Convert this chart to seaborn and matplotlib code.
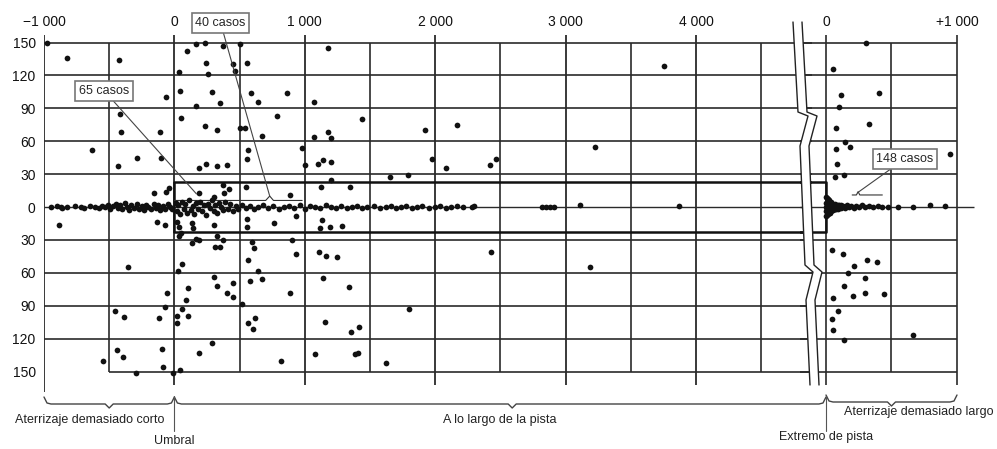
import matplotlib
matplotlib.use("Agg")
import matplotlib.pyplot as plt
import numpy as np
import pandas as pd
import seaborn as sns
from matplotlib.lines import Line2D
from matplotlib.patches import Polygon

# ---------------- data (metres along runway, metres off centreline) ----------------
main_upper = [(-977, 150), (-823, 136), (-423, 134), (-631, 52), (-415, 85), (-408, 68), (-431, 37),
              (-285, 45), (-108, 68), (-100, 45), (-62, 100), (-154, 13), (-62, 14), (-38, 17),
              (38, 123), (46, 106), (54, 81), (100, 142), (169, 149), (231, 150), (369, 147),
              (169, 92), (246, 131), (285, 105), (346, 95), (254, 121), (231, 74), (323, 70),
              (446, 130), (462, 124), (500, 149), (554, 131), (585, 104), (638, 96), (500, 72),
              (538, 72), (562, 52), (554, 44), (669, 65), (785, 83), (862, 104), (977, 54),
              (1000, 38), (1069, 96), (1069, 64), (1177, 68), (1200, 63), (1100, 39), (1138, 43),
              (1200, 41), (1177, 145), (185, 36), (246, 39), (323, 37), (400, 38), (369, 20),
              (415, 16), (300, 9), (380, 13), (192, 13), (885, 11), (546, 18), (1438, 80),
              (1923, 70), (2169, 75), (1977, 44), (2085, 36), (2423, 38), (2469, 44), (1654, 27),
              (1792, 29), (1123, 18), (1346, 18), (1200, 25), (3223, 55), (3754, 129)]
main_lower = [(-885, -16), (-354, -55), (-454, -95), (-385, -100), (-438, -130), (-392, -137),
              (-546, -140), (-292, -151), (-131, -14), (-69, -16), (-54, -78), (-69, -91),
              (-115, -101), (-92, -129), (-85, -146), (-8, -151), (46, -149), (31, -58), (62, -52),
              (23, -14), (38, -18), (54, -24), (38, -26), (138, -15), (146, -19), (138, -33),
              (162, -29), (185, -30), (300, -16), (323, -26), (315, -36), (346, -36), (369, -30),
              (108, -74), (92, -85), (62, -93), (23, -99), (108, -99), (23, -106), (300, -64),
              (323, -72), (400, -78), (446, -82), (446, -69), (515, -88), (192, -133), (285, -124),
              (554, -11), (554, -18), (592, -32), (608, -37), (562, -48), (577, -67), (638, -58),
              (669, -66), (562, -106), (600, -111), (615, -101), (762, -15), (931, -8), (900, -30),
              (931, -43), (885, -78), (815, -140), (1131, -12), (1115, -19), (1192, -18),
              (1285, -17), (1108, -41), (1162, -45), (1246, -46), (1138, -65), (1338, -73),
              (1154, -105), (1354, -114), (1415, -109), (1077, -134), (1385, -134), (1408, -133),
              (1623, -142), (1800, -93), (2431, -41), (3185, -55)]
main_centre = [(-950, 0), (-900, 1), (-870, 0), (-860, -1), (-820, 0), (-760, 1), (-720, 0),
               (-690, -1), (-650, 1), (-610, 0), (-580, -1), (-555, 1), (-530, 0), (-510, 2),
               (-490, -2), (-470, 1), (-450, 3), (-430, -1), (-415, 2), (-400, -2), (-380, 4),
               (-360, 0), (-345, -3), (-330, 2), (-310, -1), (-290, 3), (-270, -2), (-250, 1),
               (-235, -3), (-220, 2), (-200, 0), (-180, -2), (-160, 3), (-140, -1), (-125, 2),
               (-110, -3), (-90, 1), (-70, -2), (-50, 3), (-35, 0), (-20, -2),
               (10, 4), (20, -4), (30, 2), (45, -6), (55, 5), (70, -2), (85, 3), (95, -5),
               (110, 6), (125, -3), (140, 1), (150, -6), (165, 4), (180, -2), (195, 5),
               (210, -4), (225, 2), (240, -7), (255, 3), (270, -1), (285, 6), (300, -4),
               (315, 2), (330, -5), (345, 4), (360, 0), (375, -3), (390, 5), (410, -2),
               (430, 3), (450, -4), (470, 1), (490, -2), (520, 2), (550, -1), (580, 1),
               (610, -2), (640, 0), (680, 2), (720, -1), (760, 1), (800, -2), (840, 0),
               (880, 1), (920, -1), (960, 2), (1000, -2), (1040, 1), (1080, 0), (1120, -1),
               (1160, 2), (1200, 0), (1240, -1), (1280, 1), (1320, -1), (1360, 0), (1400, 1),
               (1440, -1), (1480, 0), (1530, 1), (1580, -1), (1620, 0), (1660, 1), (1700, -1),
               (1740, 0), (1780, 1), (1820, -1), (1860, 0), (1900, 1), (1950, -1), (2000, 0),
               (2040, 1), (2080, -1), (2120, 0), (2170, 1), (2210, 0), (2280, 0), (2300, 1),
               (2820, 0), (2850, 0), (2880, 0), (2910, 0), (3108, 2), (3869, 1)]
end_upper = [(305, 150), (53, 126), (115, 102), (405, 104), (99, 91), (76, 72), (328, 76),
             (145, 59), (183, 55), (76, 53), (84, 39), (137, 29), (69, 27), (947, 48)]
end_lower = [(46, -39), (130, -43), (214, -54), (313, -48), (389, -50), (168, -60), (298, -65),
             (137, -72), (206, -81), (298, -78), (443, -79), (53, -83), (92, -95), (46, -102),
             (53, -112), (137, -121), (664, -117)]
end_centre_x = [2, 2, 2, 2, 2, 8, 8, 8, 8, 14, 14, 14, 14, 20, 20, 20, 28, 28, 28, 36, 36, 36,
                45, 45, 55, 55, 65, 65, 75, 75, 88, 88, 100, 100, 115, 115, 130, 145, 160, 175,
                190, 210, 230, 250, 275, 300, 330, 360, 395, 430, 470, 550, 664, 794, 908]
end_centre_y = [9, 4, 0, -4, -8, 8, 3, -2, -7, 7, 2, -3, -6, 6, 0, -5, 5, 0, -5, 5, 0, -4,
                3, -3, 3, -3, 3, -2, 2, -2, 2, -2, 2, -1, 2, -1, 1, -1, 2, 0,
                1, -1, 1, 0, 2, 0, 1, 0, 1, 0, 0, 0, 0, 2, 1]

y_ticks = [150, 120, 90, 60, 30, 0, -30, -60, -90, -120, -150]
y_tick_labels = ["150", "120", "90", "60", "30", "0", "30", "60", "90", "120", "150"]
main_x_ticks = [-1000, 0, 1000, 2000, 3000, 4000]
main_x_labels = ["\u22121 000", "0", "1 000", "2 000", "3 000", "4 000"]
main_half_ticks = [-500, 500, 1500, 2500, 3500, 4500]
end_x_ticks = [0, 1000]
end_x_labels = ["0", "+1 000"]
end_half_ticks = [500]
box_half_width = 23

# ---------------- figure ----------------
sns.set_style("white")
plt.rcParams["font.family"] = ["Liberation Sans", "DejaVu Sans"]

W, H = 997, 449
fig = plt.figure(figsize=(W / 100, H / 100), dpi=100)
fig.patch.set_facecolor("white")


def rect(l, r, t, b):
    return [l / W, 1 - b / H, (r - l) / W, (b - t) / H]


YLIM = (-171.4, 158.7)
ax1 = fig.add_axes(rect(44, 812, 33, 395))
ax1.set_xlim(-1000, 4890)
ax1.set_ylim(*YLIM)
ax2 = fig.add_axes(rect(800, 980, 33, 395))
ax2.set_xlim(-198.5, 1175.6)
ax2.set_ylim(*YLIM)
ax2.patch.set_alpha(0)

LC = "#2a2a2a"
for ax in (ax1, ax2):
    for s in ax.spines.values():
        s.set_visible(False)
    ax.xaxis.tick_top()
    ax.tick_params(axis="x", length=0, pad=3, labelsize=10, colors="#111")

ax1.set_xticks(main_x_ticks, main_x_labels)
ax2.set_xticks(end_x_ticks, end_x_labels)
ax1.set_yticks(y_ticks, y_tick_labels)
ax1.tick_params(axis="y", length=4, width=1.2, direction="out", pad=2, labelsize=10,
                colors="#111")
ax2.set_yticks([])

# grid
for v in main_x_ticks:
    ax1.vlines(v, -168.7 if v == -1000 else -162.3, 156.8, color=LC, lw=1.3)
for v in main_half_ticks:
    ax1.vlines(v, -150, 150, color=LC, lw=1.2)
for y in y_ticks:
    ax1.hlines(y, -500 if y == -150 else -1000, 4890, color=LC, lw=1.2 if y else 1.0)
for v in end_x_ticks:
    ax2.vlines(v, -162.3, 156.8, color=LC, lw=1.2)
for v in end_half_ticks:
    ax2.vlines(v, -150, 150, color=LC, lw=1.2)
for y in y_ticks:
    ax2.hlines(y, -198.5, 1130 if y == 0 else 1000, color=LC, lw=1.2 if y else 1.0)

# runway box
ax1.plot([0, 4890], [box_half_width] * 2, color="#111", lw=1.8)
ax1.plot([0, 4890], [-box_half_width] * 2, color="#111", lw=1.8)
ax1.vlines(0, -box_half_width, box_half_width, color="#111", lw=1.8)
ax2.plot([-198.5, 0, 0, -198.5], [box_half_width, box_half_width, -box_half_width,
                                   -box_half_width], color="#111", lw=1.8)
# thin inner lines
ax1.plot([0, 700, 731, 760, 980], [6, 6, 10, 6, 6], color="#333", lw=0.8)
ax2.plot([200, 232, 245, 258, 430], [11, 11, 14, 11, 11], color="#333", lw=0.8)


# scatter points
def frame(pts):
    return pd.DataFrame(pts, columns=["x", "y"])


DOT = "#111111"
for pts, s in ((main_upper, 17), (main_lower, 17), (main_centre, 17)):
    sns.scatterplot(data=frame(pts), x="x", y="y", ax=ax1, color=DOT, s=s, linewidth=0,
                    legend=False, clip_on=False, zorder=4)
for pts in (end_upper, end_lower):
    sns.scatterplot(data=frame(pts), x="x", y="y", ax=ax2, color=DOT, s=17, linewidth=0,
                    legend=False, clip_on=False, zorder=4)
sns.scatterplot(x=end_centre_x, y=end_centre_y, ax=ax2, color=DOT, s=17, linewidth=0,
                legend=False, clip_on=False, zorder=4)
for ax in (ax1, ax2):
    ax.set_xlabel("")
    ax.set_ylabel("")

# annotations
box = dict(boxstyle="square,pad=0.3", fc="white", ec="#777", lw=1.2)
arrow = dict(arrowstyle="-", color="#444", lw=0.8, shrinkA=0, shrinkB=0)
ax1.annotate("40 casos", xy=(731, 10), xytext=(354, 168), ha="center", va="center",
             fontsize=9, bbox=box, arrowprops=arrow, annotation_clip=False, zorder=6)
ax1.annotate("65 casos", xy=(169, 12), xytext=(-538, 106), ha="center", va="center",
             fontsize=9, bbox=box, arrowprops=arrow, annotation_clip=False, zorder=6)
ax2.annotate("148 casos", xy=(240, 13), xytext=(603, 44), ha="center", va="center",
             fontsize=9, bbox=box, arrowprops=arrow, annotation_clip=False, zorder=6)

# axis break
left = [(793, 22), (798, 112), (808, 116), (800, 146), (805, 265), (813, 272), (806, 300),
        (810, 385)]
right = [(x + 9, y) for x, y in left]
to_fig = lambda p: (p[0] / W, 1 - p[1] / H)
fig.add_artist(Polygon([to_fig(p) for p in left + right[::-1]], closed=True, fc="white",
                       ec="none", transform=fig.transFigure, zorder=10))
for line in (left, right):
    fig.add_artist(Line2D([to_fig(p)[0] for p in line], [to_fig(p)[1] for p in line],
                          color="#222", lw=1.0, transform=fig.transFigure, zorder=11))


# braces and labels below
def xpx(ax, x):
    return ax.transData.transform((x, 0))[0]


x_short = xpx(ax1, -1000)
x_thr = xpx(ax1, 0)
x_end = xpx(ax2, 0)
x_long = xpx(ax2, 1000)


def brace(x0, x1, tip, py):
    pts = [(x0, py - 7), (x0 + 3, py - 1), (x0 + 7, py), (tip - 4, py), (tip, py + 4),
           (tip + 4, py), (x1 - 7, py), (x1 - 3, py - 1), (x1, py - 7)]
    fig.add_artist(Line2D([p[0] / W for p in pts], [1 - p[1] / H for p in pts],
                          color="#444", lw=1.0, transform=fig.transFigure))


brace(x_short, x_thr, xpx(ax1, -500), 404)
brace(x_thr, x_end, (x_thr + x_end) / 2 + 12, 404)
brace(x_end, x_long, xpx(ax2, 500), 402)
for xv in (x_thr, x_end):
    fig.add_artist(Line2D([xv / W, xv / W], [1 - 396 / H, 1 - 431 / H], color="#555",
                          lw=0.8, transform=fig.transFigure))


def label(xp, py, s):
    fig.text(xp / W, 1 - py / H, s, ha="center", va="center", fontsize=9, color="#222")


label(90, 420, "Aterrizaje demasiado corto")
label(x_thr, 441, "Umbral")
label(500, 420, "A lo largo de la pista")
label(x_end, 437, "Extremo de pista")
label(919, 412, "Aterrizaje demasiado largo")

fig.savefig("out.png", dpi=100, facecolor="white")
